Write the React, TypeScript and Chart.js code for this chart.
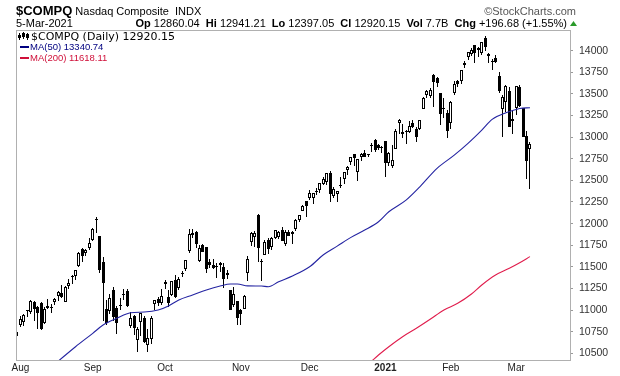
import React, { useEffect, useRef } from 'react';
import { Chart, registerables } from 'chart.js';

Chart.register(...registerables);

// ---- Data (index 0 = 31-Jul-2020, index 149 = 5-Mar-2021) ----
const opens = [
  10700, 10822, 10862, 10987, 10983, 11095, 11038, 11083, 10855, 11028, 11035, 11088, 11165, 11200, 11094, 11283, 11380, 11395, 11515, 11701, 11660, 11716,
  11814, 12047, 11861, 11555, 11015, 10990, 11235, 11021, 11052, 11174, 11224, 10820, 10935, 10653, 10865, 10905, 10601, 10663, 11070, 11125, 11085,
  11300, 11150, 11177, 11346, 11250, 11432, 11479, 11685, 11889, 11902, 11568, 11749, 11730, 11558, 11522, 11493, 11517, 11496, 11410, 11230, 11064, 11102,
  10999, 11011, 11423, 11784, 11842, 12095, 11564, 11637, 11806, 11728, 11839, 11848, 11928, 11769, 11907, 11899, 11942, 12044, 12143, 12260,
  12296, 12295, 12370, 12386, 12462, 12486, 12580, 12315, 12345, 12443, 12514, 12617, 12712, 12805, 12593, 12771, 12812, 12791, 12914, 12968, 12906, 12877,
  12958, 12699, 12666, 12867, 13159, 13056, 13062, 13059, 13160, 13090, 13092, 13330, 13490, 13480, 13715, 13680, 13506, 13330, 13279,
  13161, 13514, 13652, 13644, 13838, 13922, 13962, 14069, 14013, 13979, 14148, 13940, 13868, 13921, 13705, 13322, 13403, 13535, 13212,
  13339, 13585, 13342, 13017, 12860,
];
const highs = [
  10745, 10928, 10951, 11002, 11121, 11102, 11050, 11099, 11030, 11126, 11065, 11135, 11216, 11291, 11280, 11365, 11410, 11466, 11666, 11722, 11711, 11829,
  11945, 12074, 11862, 11617, 11111, 11184, 11262, 11045, 11145, 11244, 11246, 10981, 10948, 10800, 10968, 10932, 10777, 10933, 11121, 11153, 11246,
  11343, 11230, 11334, 11402, 11377, 11450, 11583, 11941, 11940, 11913, 11757, 11768, 11730, 11585, 11585, 11549, 11551, 11546, 11460, 11231, 11264, 11103,
  11010, 11175, 11620, 11908, 11920, 12109, 11586, 11807, 11830, 11840, 11926, 11916, 11962, 11925, 11924, 11919, 12053, 12100, 12219, 12261,
  12392, 12350, 12417, 12465, 12538, 12584, 12608, 12421, 12381, 12543, 12596, 12670, 12764, 12808, 12746, 12820, 12848, 12810, 12931, 12973, 12924, 12902,
  12958, 12828, 12909, 13090, 13208, 13150, 13086, 13183, 13195, 13118, 13204, 13470, 13540, 13566, 13728, 13693, 13508, 13457, 13316,
  13416, 13648, 13660, 13778, 13878, 13987, 14034, 14069, 14044, 14095, 14175, 13968, 13902, 13955, 13748, 13493, 13605, 13575, 13303,
  13589, 13606, 13342, 13071, 12941,
];
const lows = [
  10537, 10801, 10821, 10919, 10960, 10875, 10780, 10775, 10844, 11015, 10965, 11060, 11110, 11134, 11090, 11245, 11300, 11346, 11495, 11560, 11630, 11699,
  11794, 11894, 11425, 10875, 10823, 10958, 10875, 10725, 11000, 11122, 11040, 10794, 10712, 10520, 10697, 10619, 10519, 10609, 11005, 11049, 11053,
  11240, 11039, 11159, 11141, 11232, 11384, 11452, 11661, 11832, 11713, 11556, 11669, 11432, 11482, 11474, 11374, 11436, 11250, 11357, 11000, 11030, 10822,
  10831, 11010, 11332, 11744, 11727, 11552, 11339, 11637, 11654, 11696, 11817, 11821, 11801, 11746, 11852, 11762, 11910, 12023, 12141, 12080,
  12275, 12230, 12336, 12356, 12446, 12445, 12247, 12300, 12254, 12417, 12463, 12559, 12682, 12668, 12496, 12724, 12770, 12774, 12827, 12829, 12857, 12821,
  12543, 12665, 12649, 12867, 13035, 12995, 12922, 13044, 13107, 12943, 13084, 13329, 13456, 13450, 13353, 13581, 13143, 13220, 12986,
  13089, 13491, 13582, 13616, 13801, 13895, 13944, 13852, 13923, 13953, 14002, 13855, 13774, 13852, 13512, 13003, 13295, 13118, 13033,
  13259, 13352, 12998, 12517, 12397,
];
const closes = [
  10745, 10902, 10941, 10998, 11108, 11011, 10968, 10782, 11012, 11042, 11019, 11129, 11210, 11146, 11264, 11312, 11380, 11466, 11665, 11625, 11695, 11775,
  11939, 12056, 11458, 11313, 10848, 11141, 10919, 10854, 11057, 11190, 11050, 10910, 10794, 10778, 10964, 10633, 10672, 10914, 11117, 11085, 11168,
  11326, 11076, 11332, 11154, 11365, 11421, 11580, 11876, 11863, 11768, 11714, 11672, 11479, 11517, 11485, 11506, 11548, 11359, 11431, 11005, 11186, 10912,
  10957, 11161, 11590, 11891, 11895, 11713, 11554, 11786, 11710, 11829, 11925, 11900, 11802, 11905, 11855, 11881, 12037, 12094, 12206, 12199,
  12355, 12349, 12377, 12464, 12519, 12583, 12339, 12405, 12378, 12440, 12595, 12658, 12765, 12756, 12742, 12808, 12771, 12805, 12900, 12851, 12871, 12888,
  12698, 12819, 12740, 13067, 13202, 13036, 13072, 13129, 13112, 12998, 13197, 13457, 13530, 13543, 13635, 13626, 13271, 13337, 13070,
  13403, 13612, 13610, 13778, 13856, 13987, 14007, 13973, 14026, 14095, 14047, 13965, 13865, 13874, 13533, 13465, 13597, 13119, 13192,
  13589, 13358, 12998, 12723, 12920,
];

// Moving averages (trading-day index, value)
const ma50Idx = [12, 17, 22, 25, 29, 33, 37, 41, 44, 47, 51, 55, 59, 62, 64, 67, 71, 73, 76, 80, 85, 89, 93, 97, 101, 105, 108, 113, 117, 122, 127, 131, 135, 138, 142, 146, 149];
const ma50Vals = [10410, 10576, 10731, 10827, 10905, 10969, 10977, 11000, 11047, 11116, 11174, 11232, 11278, 11301, 11301, 11280, 11278, 11270, 11328, 11394, 11501, 11640, 11740, 11841, 11925, 12021, 12137, 12272, 12426, 12639, 12792, 12928, 13081, 13205, 13282, 13332, 13341];
const ma200Idx = [103, 105, 108, 112, 116, 120, 124, 128, 132, 135, 139, 143, 146, 149];
const ma200Vals = [10410, 10480, 10576, 10692, 10789, 10893, 11001, 11078, 11186, 11290, 11405, 11483, 11547, 11618];

// Axes
const monthTickIdx = [1, 22, 43, 65, 85, 107, 126, 145];
const monthTickLabels = ['Aug', 'Sep', 'Oct', 'Nov', 'Dec', '2021', 'Feb', 'Mar'];
const priceTicks = [10500, 10750, 11000, 11250, 11500, 11750, 12000, 12250, 12500, 12750, 13000, 13250, 13500, 13750, 14000];

// Header texts
const symbol = '$COMPQ';
const indexName = 'Nasdaq Composite  INDX';
const dateText = '5-Mar-2021';
const quoteParts: [string, boolean][] = [
  ['Op', true], [' 12860.04  ', false], ['Hi', true], [' 12941.21  ', false], ['Lo', true], [' 12397.05  ', false],
  ['Cl', true], [' 12920.15  ', false], ['Vol', true], [' 7.7B  ', false], ['Chg', true], [' +196.68 (+1.55%)', false],
];
const legendMain = '$COMPQ (Daily) 12920.15';
const legendMa50 = 'MA(50) 13340.74';
const legendMa200 = 'MA(200) 11618.11';

const FONT = 'Liberation Sans, Arial, sans-serif';

const snapPlugin = {
  id: 'snap',
  beforeDatasetsDraw(chart: any) {
    chart.getSortedVisibleDatasetMetas().forEach((meta: any) => {
      if (meta.type !== 'bar') return;
      meta.data.forEach((el: any) => {
        el.x = Math.floor(el.x) + 0.5;
        el.y = Math.round(el.y);
        el.base = Math.round(el.base);
      });
    });
  },
};

const decorPlugin = {
  id: 'decor',
  afterDraw(chart: any) {
    const ctx: CanvasRenderingContext2D = chart.ctx;
    const a = chart.chartArea;
    ctx.save();
    // frame
    ctx.strokeStyle = '#b0b0b0';
    ctx.lineWidth = 1;
    ctx.strokeRect(a.left + 0.5, a.top + 0.5, a.right - a.left, a.bottom - a.top);

    ctx.textBaseline = 'alphabetic';
    ctx.textAlign = 'left';
    // line 1
    ctx.fillStyle = '#000';
    ctx.font = `bold 13px ${FONT}`;
    ctx.fillText(symbol, 16, 15);
    const w1 = ctx.measureText(symbol).width;
    ctx.font = `11px ${FONT}`;
    ctx.fillText(indexName, 16 + w1 + 3, 15);
    ctx.fillStyle = '#555';
    ctx.textAlign = 'right';
    ctx.fillText('\u00A9StockCharts.com', 576, 15);
    ctx.textAlign = 'left';

    // line 2
    ctx.fillStyle = '#000';
    ctx.font = `11px ${FONT}`;
    ctx.fillText(dateText, 16, 27);
    let total = 0;
    for (const [t, b] of quoteParts) {
      ctx.font = `${b ? 'bold ' : ''}11px ${FONT}`;
      total += ctx.measureText(t).width;
    }
    let x = 567 - total;
    for (const [t, b] of quoteParts) {
      ctx.font = `${b ? 'bold ' : ''}11px ${FONT}`;
      ctx.fillText(t, x, 27);
      x += ctx.measureText(t).width;
    }
    ctx.fillStyle = '#2a9a2a';
    ctx.beginPath();
    ctx.moveTo(570, 26);
    ctx.lineTo(577, 26);
    ctx.lineTo(573.5, 21);
    ctx.closePath();
    ctx.fill();

    // legend icon (mini candles)
    ctx.fillStyle = '#000';
    ctx.fillRect(19, 33, 1, 7);
    ctx.fillRect(18, 35, 3, 3);
    ctx.fillRect(23, 32, 1, 7);
    ctx.strokeStyle = '#000';
    ctx.strokeRect(22.5, 33.5, 2, 3);
    ctx.fillRect(27, 33, 1, 7);
    ctx.fillRect(26, 34, 3, 4);
    ctx.font = `11px DejaVu Sans, ${FONT}`;
    ctx.fillText(legendMain, 31, 40);

    ctx.fillStyle = '#000080';
    ctx.fillRect(20, 46, 9, 2);
    ctx.font = `9.5px ${FONT}`;
    ctx.fillText(legendMa50, 30, 50);
    ctx.fillStyle = '#d0103a';
    ctx.fillRect(20, 57, 9, 2);
    ctx.fillText(legendMa200, 30, 61);
    ctx.restore();
  },
};

export default function App() {
  const ref = useRef<HTMLCanvasElement | null>(null);
  useEffect(() => {
    document.body.style.margin = '0';
    const canvas = ref.current;
    if (!canvas) return;
    const n = closes.length;
    const idx = closes.map((_, i) => i);
    const chart = new Chart(canvas, {
      type: 'bar',
      data: {
        datasets: [
          {
            type: 'line',
            data: ma50Idx.map((v, i) => ({ x: v, y: ma50Vals[i] })),
            borderColor: '#2424a2',
            borderWidth: 1.1,
            pointRadius: 0,
            cubicInterpolationMode: 'monotone',
            order: 0,
          } as any,
          {
            type: 'line',
            data: ma200Idx.map((v, i) => ({ x: v, y: ma200Vals[i] })),
            borderColor: '#e01c4c',
            borderWidth: 1.1,
            pointRadius: 0,
            cubicInterpolationMode: 'monotone',
            order: 0,
          } as any,
          {
            type: 'bar',
            data: idx.map((i) => ({ x: i, y: [Math.min(opens[i], closes[i]), Math.max(opens[i], closes[i])] })),
            backgroundColor: (c: any) => (closes[c.dataIndex] >= opens[c.dataIndex] ? '#ffffff' : '#000000'),
            borderColor: '#000000',
            borderWidth: 1,
            borderSkipped: false,
            inflateAmount: 0,
            barThickness: 3,
            minBarLength: 1,
            grouped: false,
            order: 1,
          } as any,
          {
            type: 'bar',
            data: idx.map((i) => ({ x: i, y: [lows[i], highs[i]] })),
            backgroundColor: '#000000',
            borderWidth: 0,
            inflateAmount: 0,
            barThickness: 1,
            grouped: false,
            order: 2,
          } as any,
        ],
      },
      options: {
        responsive: false,
        animation: false,
        devicePixelRatio: 1,
        events: [],
        layout: { padding: { left: 16, top: 30, right: 0, bottom: 0 } },
        plugins: { legend: { display: false }, tooltip: { enabled: false } },
        scales: {
          x: {
            type: 'linear',
            min: -0.29,
            max: n - 1 + 11.62,
            offset: false,
            grid: { display: true, drawOnChartArea: false, drawTicks: false, offset: false, color: '#aaa' },
            border: { display: false },
            afterBuildTicks: (s: any) => {
              s.ticks = monthTickIdx.map((v) => ({ value: v }));
            },
            afterFit: (s: any) => {
              s.height = 16;
            },
            ticks: {
              autoSkip: false,
              maxRotation: 0,
              padding: 2,
              color: '#222',
              callback: (_v: any, i: number) => monthTickLabels[i],
              font: (c: any) => ({
                family: FONT,
                size: 10,
                weight: c.tick && c.tick.label === '2021' ? 'bold' : 'normal',
              }),
            },
          },
          y: {
            type: 'linear',
            position: 'right',
            min: 10422.5,
            max: 14239.4,
            grid: { display: true, drawOnChartArea: false, drawTicks: true, tickLength: 3, color: '#999' },
            border: { display: false },
            afterBuildTicks: (s: any) => {
              s.ticks = priceTicks.map((v) => ({ value: v }));
            },
            afterFit: (s: any) => {
              s.width = 50;
            },
            ticks: {
              padding: 6,
              color: '#333',
              font: { family: FONT, size: 10.5 },
              callback: (v: any) => String(v),
            },
          },
        },
      } as any,
      plugins: [snapPlugin, decorPlugin],
    });
    return () => chart.destroy();
  }, []);
  return (
    <div style={{ position: 'absolute', left: 0, top: 0, width: 620, height: 376, background: '#fff' }}>
      <canvas ref={ref} width={620} height={376} style={{ display: 'block', width: 620, height: 376 }} />
    </div>
  );
}
